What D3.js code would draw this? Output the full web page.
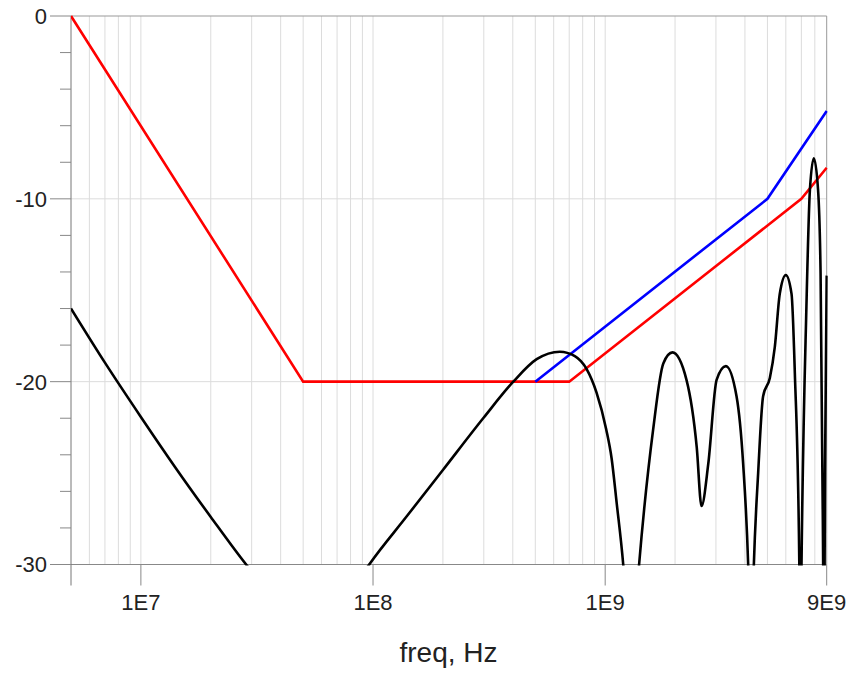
<!DOCTYPE html>
<html><head><meta charset="utf-8">
<script src="https://cdn.jsdelivr.net/npm/d3@7"></script>
<style>
body{margin:0;background:#fff;}
svg{display:block;}
text{font-family:"Liberation Sans",Arial,sans-serif;fill:#222;}
</style>
</head><body>
<svg id="chart" width="849" height="673"></svg>
<script>
// ---- data ----
const xDomain = [5e6, 9e9];
const yDomain = [-30, 0];
const xTickValues = [1e7, 1e8, 1e9, 9e9];
const xTickLabels = ["1E7", "1E8", "1E9", "9E9"];
const yTickValues = [0, -10, -20, -30];
const yTickLabels = ["0", "-10", "-20", "-30"];
const xAxisTitle = "freq, Hz";

// red mask line
const redFreq = [5e6, 5e7, 7e8, 7e9, 9e9];
const redDb   = [0, -20, -20, -10, -8.3];
// blue mask line
const blueFreq = [5e8, 5e9, 9e9];
const blueDb   = [-20, -10, -5.2];
// black response curve (values below -30 fall outside the plot)
const blackFreq = [5e6, 7e6, 1e7, 1.4e7, 2e7, 2.88e7, 3.5e7, 5.8e7, 8e7,
  9.7e7, 1.4e8, 2e8, 3e8, 4.02e8, 5.07e8, 6.38e8, 7.4e8, 8.31e8, 9.18e8, 1.01e9,
  1.066e9, 1.12e9, 1.196e9, 1.29e9, 1.40e9, 1.61e9, 1.78e9, 1.95e9, 2.24e9, 2.48e9,
  2.6e9, 2.78e9, 3.02e9, 3.31e9, 3.68e9, 3.93e9, 4.13e9, 4.25e9, 4.37e9, 4.56e9,
  4.79e9, 5.12e9, 5.38e9, 5.65e9, 6.0e9, 6.35e9, 6.56e9, 6.86e9, 6.93e9, 7.01e9,
  7.36e9, 7.62e9, 7.92e9, 8.26e9, 8.47e9, 8.69e9, 8.76e9, 8.85e9, 9e9];
const blackDb = [-16.0, -18.96, -21.93, -24.65, -27.4, -30.1, -31.4, -34, -31.5,
  -29.94, -27.35, -24.83, -21.96, -20.0, -18.77, -18.36, -18.6, -19.3, -20.6, -22.6,
  -24.2, -26.6, -30, -36, -30, -22.6, -19.0, -18.4, -19.9, -23.6,
  -26.8, -24.5, -19.9, -19.15, -20.8, -24.5, -30, -36, -30, -25.0,
  -20.8, -19.8, -18.1, -15.2, -14.17, -15.2, -19.5, -30, -36, -30,
  -15.9, -9.5, -7.78, -9.5, -14.1, -30, -36, -25, -14.2];

// ---- drawing ----
const svg = d3.select("#chart");
const L = 71, R = 826.7, T = 16, B = 564.5;
const x = d3.scaleLog().domain(xDomain).range([L, R]);
const y = d3.scaleLinear().domain(yDomain).range([B, T]);

// vertical grid (every 1..9 per decade)
const gridF = [];
for (let d = 6; d <= 9; d++) for (let k = 1; k <= 9; k++) {
  const f = k * Math.pow(10, d);
  if (f > xDomain[0] && f < xDomain[1]) gridF.push(f);
}
svg.append("g").selectAll("line").data(gridF).join("line")
  .attr("x1", d => x(d)).attr("x2", d => x(d))
  .attr("y1", T).attr("y2", B)
  .attr("stroke", "#dcdcdc").attr("stroke-width", 1);
// horizontal grid
svg.append("g").selectAll("line").data([-10, -20]).join("line")
  .attr("x1", L).attr("x2", R)
  .attr("y1", d => y(d)).attr("y2", d => y(d))
  .attr("stroke", "#dcdcdc").attr("stroke-width", 1);

// frame
svg.append("line").attr("x1", L).attr("x2", R).attr("y1", T).attr("y2", T).attr("stroke", "#999");
svg.append("line").attr("x1", R).attr("x2", R).attr("y1", T).attr("y2", B).attr("stroke", "#999");
svg.append("line").attr("x1", L).attr("x2", R).attr("y1", B).attr("y2", B).attr("stroke", "#888");
svg.append("line").attr("x1", L).attr("x2", L).attr("y1", T).attr("y2", B + 21).attr("stroke", "#777");

// y ticks
const yMinor = d3.range(-30, 1, 2).filter(v => v % 10 !== 0);
svg.append("g").selectAll("line").data(yMinor).join("line")
  .attr("x1", L - 11).attr("x2", L).attr("y1", d => y(d)).attr("y2", d => y(d))
  .attr("stroke", "#888");
svg.append("g").selectAll("line").data(yTickValues).join("line")
  .attr("x1", L - 21).attr("x2", L).attr("y1", d => y(d)).attr("y2", d => y(d))
  .attr("stroke", "#888");
svg.append("g").selectAll("text").data(yTickValues).join("text")
  .attr("x", 47).attr("y", d => y(d) + 7.9)
  .attr("text-anchor", "end").attr("font-size", 22)
  .text((d, i) => yTickLabels[i]);

// x ticks
svg.append("g").selectAll("line").data(xTickValues).join("line")
  .attr("x1", d => x(d)).attr("x2", d => x(d)).attr("y1", B).attr("y2", B + 21)
  .attr("stroke", "#888");
svg.append("g").selectAll("text").data(xTickValues).join("text")
  .attr("x", d => x(d)).attr("y", 610)
  .attr("text-anchor", "middle").attr("font-size", 22)
  .text((d, i) => xTickLabels[i]);

svg.append("text").attr("x", 448.5).attr("y", 661.5)
  .attr("text-anchor", "middle").attr("font-size", 28).text(xAxisTitle);

// clip
svg.append("clipPath").attr("id", "plotclip").append("rect")
  .attr("x", L).attr("y", T - 2).attr("width", R - L + 1).attr("height", B - T + 3);

const plot = svg.append("g").attr("clip-path", "url(#plotclip)");
const lineGen = d3.line().x(d => x(d[0])).y(d => y(d[1]));

plot.append("path").datum(d3.zip(redFreq, redDb))
  .attr("d", lineGen).attr("fill", "none").attr("stroke", "#ff0000").attr("stroke-width", 2.6);
plot.append("path").datum(d3.zip(blueFreq, blueDb))
  .attr("d", lineGen).attr("fill", "none").attr("stroke", "#0000ff").attr("stroke-width", 2.6);
plot.append("path").datum(d3.zip(blackFreq, blackDb))
  .attr("d", d3.line().x(d => x(d[0])).y(d => y(d[1])).curve(d3.curveMonotoneX))
  .attr("fill", "none").attr("stroke", "#000").attr("stroke-width", 2.6)
  .attr("stroke-linejoin", "round");
</script>
</body></html>
